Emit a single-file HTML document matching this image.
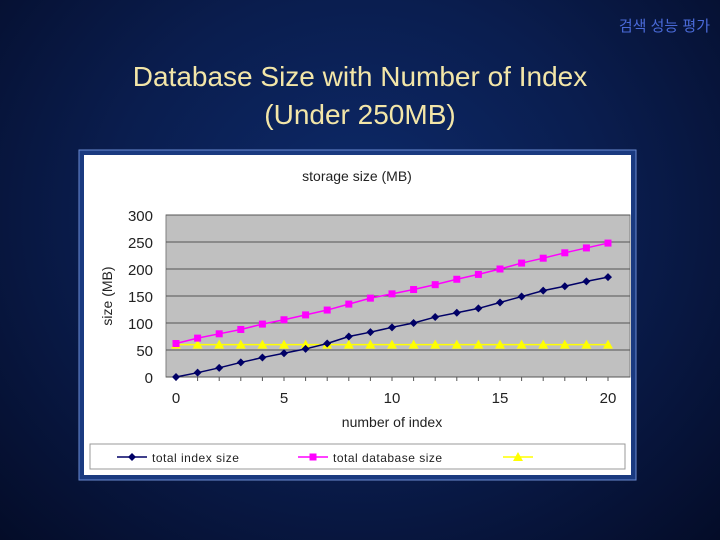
<!DOCTYPE html>
<html><head><meta charset="utf-8"><style>
body{margin:0;width:720px;height:540px;overflow:hidden;background:radial-gradient(ellipse at 50% 40%,#0d2a6a 0%,#0a1d4e 50%,#040c28 100%);font-family:"Liberation Sans","Noto Sans CJK KR",sans-serif;position:relative}
#sub{position:absolute;right:10px;top:15px;color:#4a6ad8;font-size:15px}
#title{position:absolute;left:0;width:720px;top:58px;text-align:center;color:#f3e6a8;font-size:28px;line-height:38px}
</style></head><body>
<div id="sub">검색 성능 평가</div>
<div id="title">Database Size with Number of Index<br>(Under 250MB)</div>
<svg id="chart" width="720" height="540" style="position:absolute;left:0;top:0" font-family="Liberation Sans, sans-serif"></svg>
<script>
const categories=[0,1,2,3,4,5,6,7,8,9,10,11,12,13,14,15,16,17,18,19,20];
const indexSize=[0,8,17,27,36,44,52,62,75,83,92,100,111,119,127,138,149,160,168,177,185];
const dbSize=[62,72,80,88,98,106,115,124,135,146,154,162,171,181,190,200,211,220,230,239,248];
const baseSize=[60,60,60,60,60,60,60,60,60,60,60,60,60,60,60,60,60,60,60,60,60];
const yTicks=[0,50,100,150,200,250,300];
const xTicks=[0,5,10,15,20];
const NS='http://www.w3.org/2000/svg',svg=document.getElementById('chart');
function mk(t,a,p){const e=document.createElementNS(NS,t);for(const k in a)e.setAttribute(k,a[k]);(p||svg).appendChild(e);return e;}
const X=v=>176+(v-0)*(608-176)/20, Y=v=>377-v*(377-215)/300;
let e;
e=mk('rect',{x:79,y:150,width:557,height:330,fill:'#1a3a80',stroke:'#6a8ad0'});

e=mk('rect',{x:84,y:155,width:547,height:320,fill:'#fff'});

e=mk('text',{x:357,y:181,'text-anchor':'middle','font-size':14,fill:'#222'});e.textContent='storage size (MB)';

e=mk('rect',{x:166,y:215,width:464,height:162,fill:'#c0c0c0',stroke:'#808080'});

yTicks.forEach(v=>{
 const g=mk('line',{x1:166,x2:630,y1:Y(v),y2:Y(v),stroke:'#555','stroke-width':1});
 
 const t=mk('text',{x:153,y:Y(v)+6,'text-anchor':'end','font-size':15,fill:'#222'});t.textContent=v;
 
});
categories.forEach(c=>{const l=mk('line',{x1:X(c),x2:X(c),y1:377,y2:381,stroke:'#555'});
 });
xTicks.forEach(v=>{const t=mk('text',{x:X(v),y:403,'text-anchor':'middle','font-size':15,fill:'#222'});t.textContent=v;
 });
e=mk('text',{x:392,y:427,'text-anchor':'middle','font-size':14,fill:'#222'});e.textContent='number of index';

e=mk('text',{x:0,y:0,'text-anchor':'middle','font-size':14,fill:'#222',transform:'translate(112,296) rotate(-90)'});e.textContent='size (MB)';

function marker(type,x,y,color,p){
 if(type==='d')return mk('polygon',{points:`${x},${y-4} ${x+4},${y} ${x},${y+4} ${x-4},${y}`,fill:color},p);
 if(type==='s')return mk('rect',{x:x-3.5,y:y-3.5,width:7,height:7,fill:color},p);
 return mk('polygon',{points:`${x},${y-5} ${x+5},${y+4} ${x-5},${y+4}`,fill:color},p);
}
const series=[[baseSize,'#ffff00','t','base-size'],[indexSize,'#000066','d','total-index-size'],[dbSize,'#ff00ff','s','total-database-size']];
series.forEach(([d,col,m,name])=>{
 const g=mk('g',{});
 mk('polyline',{points:d.map((v,i)=>X(categories[i])+','+Y(v)).join(' '),fill:'none',stroke:col,'stroke-width':1.5},g);
 d.forEach((v,i)=>{const p=marker(m,X(categories[i]),Y(v),col,g);
  });
});
e=mk('rect',{x:90,y:444,width:535,height:25,fill:'#fff',stroke:'#999'});

[[117,'#000066','d','total index size'],[298,'#ff00ff','s','total database size'],[503,'#ffff00','t','']].forEach(([x,c,m,l])=>{
 const g=mk('g',{});
 mk('line',{x1:x,x2:x+30,y1:457,y2:457,stroke:c,'stroke-width':1.5},g);marker(m,x+15,457,c,g);
 if(l){const t=mk('text',{x:x+35,y:462,'font-size':12,fill:'#222','letter-spacing':'0.5'},g);t.textContent=l;}
});
</script>
</body></html>
